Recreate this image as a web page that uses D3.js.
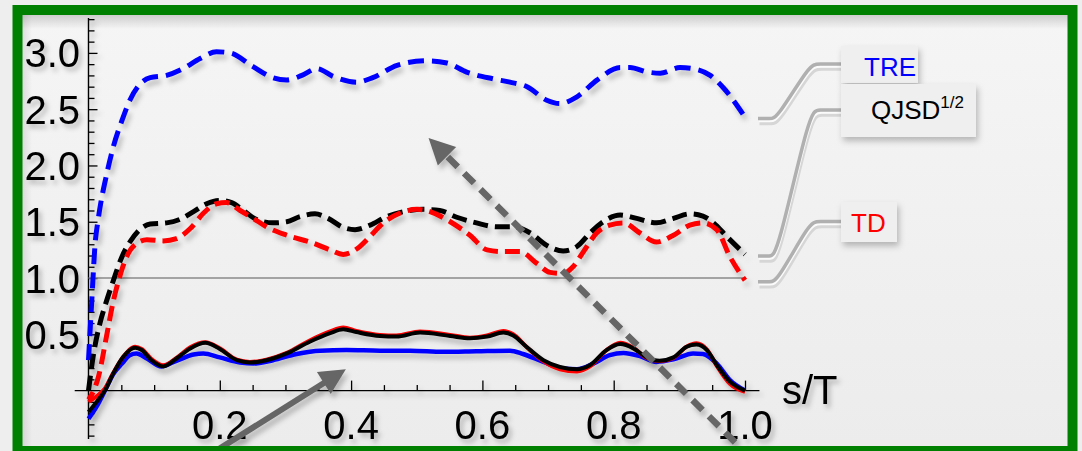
<!DOCTYPE html>
<html><head><meta charset="utf-8">
<script src="https://cdn.jsdelivr.net/npm/d3@7"></script>
<style>
html,body{margin:0;padding:0;background:#eeeeee;}
svg{display:block;font-family:"Liberation Sans",Arial,Helvetica,sans-serif;}
</style>
</head><body>
<svg id="c" width="1082" height="451"></svg>
<script>
// ---------------- data ----------------
// dashed curves
const sTRE  = [0,0.005,0.01,0.015,0.028,0.038,0.051,0.063,0.078,0.094,0.119,0.144,0.170,0.195,0.216,0.25,0.281,0.302,0.325,0.348,0.373,0.409,0.433,0.470,0.515,0.546,0.576,0.616,0.642,0.668,0.698,0.718,0.744,0.775,0.810,0.825,0.851,0.871,0.901,0.921,0.947,0.967,1.0];
const vTRE  = [0.27,0.8,1.3,1.53,1.93,2.17,2.40,2.58,2.72,2.78,2.80,2.86,2.95,3.01,3.0,2.88,2.78,2.76,2.80,2.86,2.79,2.74,2.78,2.89,2.93,2.91,2.83,2.77,2.74,2.70,2.58,2.55,2.61,2.76,2.87,2.87,2.83,2.82,2.87,2.86,2.80,2.69,2.43];
const sQJSD = [0,0.007,0.0175,0.025,0.038,0.051,0.063,0.078,0.094,0.119,0.139,0.160,0.180,0.200,0.218,0.236,0.256,0.281,0.302,0.322,0.345,0.365,0.388,0.406,0.429,0.454,0.480,0.51,0.535,0.561,0.591,0.622,0.647,0.673,0.698,0.723,0.744,0.764,0.784,0.810,0.835,0.865,0.891,0.916,0.936,0.952,0.972,1.0];
const vQJSD = [0.0,0.3,0.6,0.75,0.98,1.19,1.32,1.43,1.48,1.49,1.52,1.59,1.66,1.69,1.67,1.60,1.52,1.49,1.50,1.545,1.57,1.53,1.45,1.43,1.47,1.545,1.59,1.61,1.60,1.54,1.49,1.455,1.455,1.40,1.29,1.24,1.28,1.40,1.50,1.56,1.53,1.49,1.53,1.57,1.55,1.49,1.37,1.21];
const sTD   = [0,0.008,0.015,0.028,0.038,0.046,0.056,0.068,0.089,0.114,0.134,0.155,0.175,0.195,0.21,0.231,0.251,0.271,0.302,0.342,0.368,0.388,0.409,0.429,0.449,0.474,0.50,0.52,0.551,0.581,0.607,0.632,0.657,0.683,0.703,0.723,0.738,0.754,0.774,0.794,0.815,0.840,0.865,0.891,0.916,0.936,0.957,0.977,1.0];
const vTD   = [-0.08,0.0,0.12,0.5,0.8,0.98,1.16,1.28,1.34,1.33,1.35,1.44,1.575,1.66,1.67,1.60,1.53,1.455,1.38,1.31,1.25,1.21,1.26,1.37,1.49,1.575,1.61,1.59,1.50,1.38,1.25,1.235,1.235,1.13,1.05,1.04,1.10,1.235,1.40,1.47,1.49,1.40,1.32,1.38,1.47,1.49,1.43,1.19,0.98];
// solid curves
const sBlueSolid = [0,0.0125,0.025,0.038,0.051,0.063,0.073,0.089,0.111,0.134,0.160,0.175,0.200,0.231,0.251,0.281,0.317,0.353,0.393,0.444,0.49,0.54,0.591,0.642,0.662,0.693,0.723,0.744,0.769,0.794,0.815,0.840,0.865,0.891,0.921,0.936,0.957,0.977,1.0];
const vBlueSolid = [-0.25,-0.14,0.0,0.15,0.24,0.315,0.33,0.285,0.215,0.265,0.32,0.33,0.295,0.25,0.24,0.27,0.325,0.355,0.36,0.355,0.355,0.345,0.35,0.355,0.325,0.255,0.197,0.19,0.24,0.315,0.335,0.306,0.255,0.277,0.33,0.325,0.24,0.093,0.0];
const sSolid      = [0,0.0125,0.025,0.038,0.053,0.071,0.081,0.096,0.114,0.134,0.155,0.178,0.200,0.226,0.246,0.271,0.302,0.337,0.368,0.388,0.408,0.444,0.469,0.505,0.551,0.581,0.607,0.632,0.647,0.667,0.693,0.718,0.744,0.764,0.789,0.810,0.830,0.850,0.870,0.891,0.911,0.926,0.942,0.957,0.977,1.0];
const vBlackSolid = [-0.19,-0.1,0.0,0.155,0.30,0.38,0.36,0.27,0.215,0.285,0.375,0.425,0.37,0.27,0.25,0.27,0.33,0.434,0.51,0.545,0.52,0.485,0.48,0.515,0.485,0.465,0.48,0.515,0.49,0.39,0.27,0.21,0.19,0.227,0.36,0.413,0.375,0.295,0.265,0.295,0.39,0.41,0.36,0.227,0.08,0.0];
const vRedSolid   = [-0.10,-0.05,0.02,0.16,0.30,0.39,0.37,0.28,0.225,0.29,0.385,0.43,0.375,0.275,0.255,0.275,0.335,0.445,0.525,0.56,0.53,0.495,0.49,0.525,0.495,0.47,0.49,0.53,0.50,0.39,0.26,0.19,0.17,0.215,0.36,0.425,0.38,0.29,0.26,0.29,0.39,0.42,0.365,0.22,0.06,-0.01];
// ticks
const xMajor = [0.2,0.4,0.6,0.8,1.0];
const xLabels = ["0.2","0.4","0.6","0.8","1.0"];
const yMajor = [0.5,1.0,1.5,2.0,2.5,3.0];
const yLabels = ["0.5","1.0","1.5","2.0","2.5","3.0"];
const legendNames = ["TRE","QJSD","TD"];
// annotation arrows (data coordinates: start, tip)
const arrowDashed = [[0.985,-0.46],[0.518,2.245]];
const arrowSolid  = [[0.19,-0.55],[0.392,0.19]];

// ---------------- drawing ----------------
const svg = d3.select("#c");
const defs = svg.append("defs");
function shadow(id, dx, dy, sd, op){
  const f = defs.append("filter").attr("id",id).attr("filterUnits","userSpaceOnUse")
    .attr("x",0).attr("y",0).attr("width",1082).attr("height",451);
  f.append("feDropShadow").attr("dx",dx).attr("dy",dy).attr("stdDeviation",sd)
    .attr("flood-color","#000").attr("flood-opacity",op);
}
shadow("sh",3,5,2.5,0.22);
shadow("shT",3,4,2.5,0.25);
shadow("shB",2,4,3,0.25);

const bg = defs.append("linearGradient").attr("id","bg").attr("x1",0).attr("y1",0).attr("x2",0).attr("y2",1);
bg.append("stop").attr("offset","0%").attr("stop-color","#f5f5f5");
bg.append("stop").attr("offset","100%").attr("stop-color","#ececec");
const topSh = defs.append("linearGradient").attr("id","topSh").attr("x1",0).attr("y1",0).attr("x2",0).attr("y2",1);
topSh.append("stop").attr("offset","0%").attr("stop-color","#000").attr("stop-opacity",0.16);
topSh.append("stop").attr("offset","100%").attr("stop-color","#000").attr("stop-opacity",0);
const leftSh = defs.append("linearGradient").attr("id","leftSh").attr("x1",0).attr("y1",0).attr("x2",1).attr("y2",0);
leftSh.append("stop").attr("offset","0%").attr("stop-color","#000").attr("stop-opacity",0.10);
leftSh.append("stop").attr("offset","100%").attr("stop-color","#000").attr("stop-opacity",0);

svg.append("rect").attr("width",1082).attr("height",451).attr("fill","#eeeeee");
svg.append("rect").attr("x",22).attr("y",15).attr("width",1046).attr("height",431).attr("fill","url(#bg)");
svg.append("rect").attr("x",22).attr("y",15).attr("width",1046).attr("height",14).attr("fill","url(#topSh)");
svg.append("rect").attr("x",22).attr("y",15).attr("width",10).attr("height",431).attr("fill","url(#leftSh)");

const x = d3.scaleLinear().domain([0,1]).range([88.5,745]);
const y = d3.scaleLinear().domain([-0.43,3.31]).range([439,18]);

// axes
const axG = svg.append("g").attr("filter","url(#shT)");
axG.append("line").attr("x1",x(-0.021)).attr("x2",x(1.022)).attr("y1",y(0)).attr("y2",y(0))
  .attr("stroke","#000").attr("stroke-width",1.4);
axG.append("line").attr("x1",x(0)).attr("x2",x(0)).attr("y1",y(3.31)).attr("y2",y(-0.43))
  .attr("stroke","#000").attr("stroke-width",1.4);

function styleAxis(g){ g.select(".domain").remove(); g.selectAll("line").attr("stroke","#000").attr("stroke-width",1.3); }
const yMinor = d3.range(-4,34).map(i=>i/10).filter(v=>Math.abs(v*2-Math.round(v*2))>1e-6);
axG.append("g").attr("transform",`translate(${x(0)},0)`)
  .call(d3.axisRight(y).tickValues(yMinor).tickSize(6).tickFormat("")).call(styleAxis);
axG.append("g").attr("transform",`translate(${x(0)},0)`)
  .call(d3.axisRight(y).tickValues(yMajor).tickSize(9).tickFormat("")).call(styleAxis);
const xMinor = d3.range(1,21).map(i=>i*0.05).filter(v=>Math.abs(v*5-Math.round(v*5))>1e-6);
axG.append("g").attr("transform",`translate(0,${y(0)})`)
  .call(d3.axisTop(x).tickValues(xMinor).tickSize(5.5).tickFormat("")).call(styleAxis);
axG.append("g").attr("transform",`translate(0,${y(0)})`)
  .call(d3.axisTop(x).tickValues(xMajor).tickSize(10).tickFormat("")).call(styleAxis);

axG.selectAll(".ylab").data(yMajor).join("text").attr("class","ylab")
  .attr("x",x(0)-8.5).attr("y",d=>y(d)+14.5).attr("text-anchor","end")
  .attr("font-size",40).attr("fill","#000").text((d,i)=>yLabels[i]);
axG.selectAll(".xlab").data(xMajor).join("text").attr("class","xlab")
  .attr("x",d=>x(d)).attr("y",y(0)+48.5).attr("text-anchor","middle")
  .attr("font-size",40).attr("fill","#000").text((d,i)=>xLabels[i]);
axG.append("text").attr("x",x(1)+37).attr("y",y(0)+13.5).attr("font-size",40).attr("fill","#000").text("s/T");

// gridline at 1
svg.append("line").attr("x1",x(0)).attr("x2",x(1)).attr("y1",y(1)).attr("y2",y(1))
  .attr("stroke","#8a8a8a").attr("stroke-width",1.6);

// curves
const line = d3.line().x(d=>x(d[0])).y(d=>y(d[1])).curve(d3.curveMonotoneX);
const zip = (s,v)=>s.map((d,i)=>[d,v[i]]);
const cg = svg.append("g").attr("filter","url(#sh)").attr("fill","none").attr("stroke-linejoin","round");
cg.append("path").attr("d",line(zip(sBlueSolid,vBlueSolid))).attr("stroke","#0000ff").attr("stroke-width",4.5);
cg.append("path").attr("d",line(zip(sSolid,vRedSolid))).attr("stroke","#ff0000").attr("stroke-width",4);
cg.append("path").attr("d",line(zip(sSolid,vBlackSolid))).attr("stroke","#000").attr("stroke-width",4);
cg.append("path").attr("d",line(zip(sTRE,vTRE))).attr("stroke","#0000ff").attr("stroke-width",5).attr("stroke-dasharray","16,8");
cg.append("path").attr("d",line(zip(sQJSD,vQJSD))).attr("stroke","#000").attr("stroke-width",5).attr("stroke-dasharray","15,7");
cg.append("path").attr("d",line(zip(sTD,vTD))).attr("stroke","#ff0000").attr("stroke-width",5).attr("stroke-dasharray","15,7").attr("stroke-dashoffset",6);

// legend callouts
const ends = [vTRE[vTRE.length-1], vQJSD[vQJSD.length-1], vTD[vTD.length-1]];
const boxes = [{x:841,y:46,w:77,h:37,tx:864,ty:76,c:"#0000ff"},
               {x:841,y:84,w:135,h:53,tx:871,ty:119,c:"#000"},
               {x:841,y:202,w:56,h:40,tx:851,ty:232,c:"#ff0000"}];
const cl = d3.line().curve(d3.curveBasis);
const lg = svg.append("g");
ends.forEach((v,i)=>{
  const b = boxes[i];
  const x0 = x(1)+13, y0 = y(v)+1.5, y1 = b.y+b.h/2-0.5;
  const pts = [[x0,y0],[x0+12,y0],[x0+19,y0],[x0+52,y1],[x0+60,y1],[b.x,y1]];
  lg.append("path").attr("d",cl(pts)).attr("transform","translate(1.5,5)").attr("fill","none").attr("stroke","#d6d6d6").attr("stroke-width",3.5);
  lg.append("path").attr("d",cl(pts)).attr("transform","translate(0.8,2.8)").attr("fill","none").attr("stroke","#fbfbfb").attr("stroke-width",2);
  lg.append("path").attr("d",cl(pts)).attr("fill","none").attr("stroke","#b0b0b0").attr("stroke-width",3.5);
});
boxes.forEach((b,i)=>{
  lg.append("rect").attr("x",b.x).attr("y",b.y).attr("width",b.w).attr("height",b.h)
    .attr("fill","#efefef").attr("filter","url(#shB)");
});
boxes.forEach((b,i)=>{
  const t = lg.append("text").attr("x",b.tx).attr("y",b.ty).attr("font-size",26).attr("fill",b.c).text(legendNames[i]);
  if(i===1) t.append("tspan").attr("dy",-11).attr("font-size",17).text("1/2");
});

// arrows
function arrow(pts, dashed){
  const p0=[x(pts[0][0]),y(pts[0][1])], p1=[x(pts[1][0]),y(pts[1][1])];
  const dx=p1[0]-p0[0], dy=p1[1]-p0[1], L=Math.hypot(dx,dy);
  const ux=dx/L, uy=dy/L, nx=-uy, ny=ux, hl=26, hw=13;
  const bx=p1[0]-ux*hl, by=p1[1]-uy*hl;
  const g = svg.append("g").attr("filter","url(#sh)");
  g.append("line").attr("x1",p0[0]).attr("y1",p0[1]).attr("x2",bx+ux*2).attr("y2",by+uy*2)
    .attr("stroke","#666").attr("stroke-width",dashed?6.5:6).attr("stroke-dasharray",dashed?"14,9":null);
  g.append("path").attr("d",`M${p1[0]},${p1[1]}L${bx+nx*hw},${by+ny*hw}L${bx-nx*hw},${by-ny*hw}Z`).attr("fill","#666");
}
arrow(arrowDashed,true);
arrow(arrowSolid,false);

// green frame
svg.append("rect").attr("x",17.5).attr("y",10).attr("width",1055).attr("height",441)
  .attr("fill","none").attr("stroke","#008000").attr("stroke-width",10);
</script>
</body></html>
